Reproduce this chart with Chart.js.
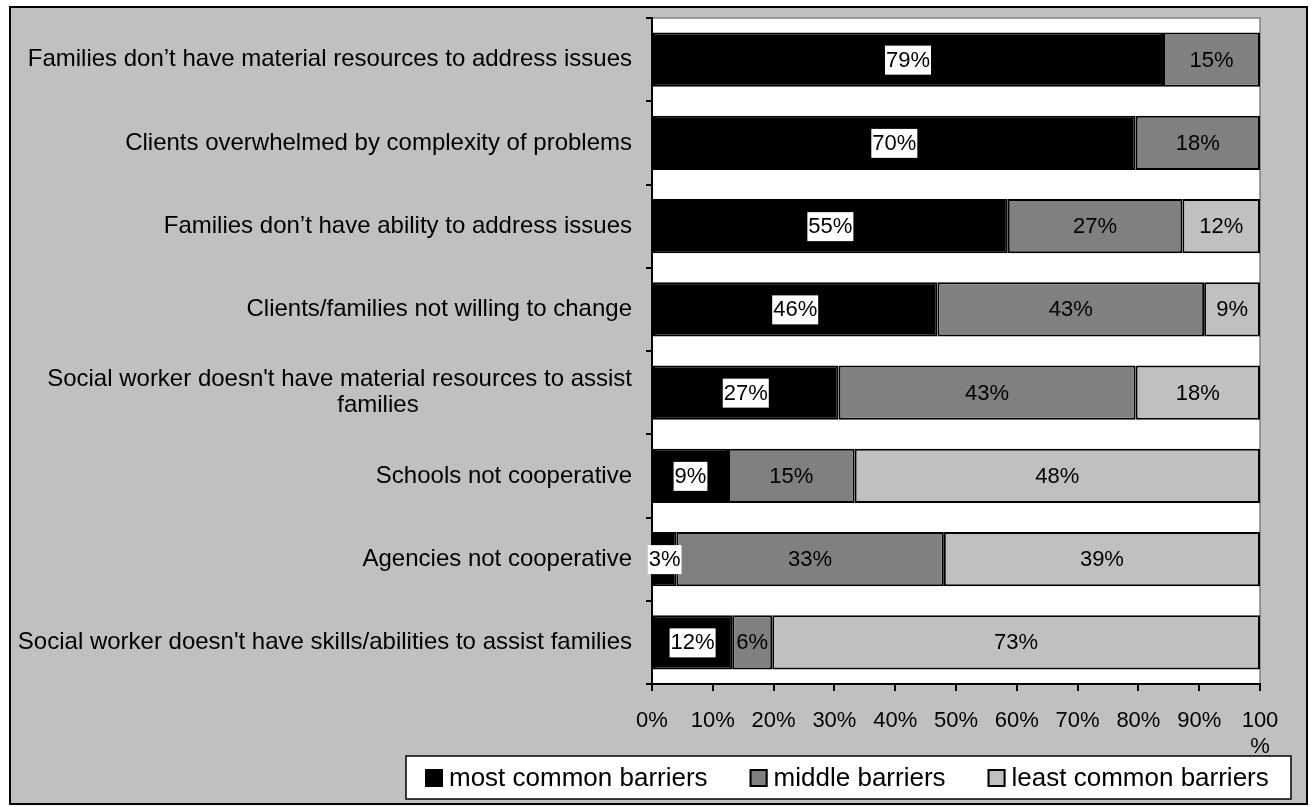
<!DOCTYPE html>
<html>
<head>
<meta charset="utf-8">
<script src="https://cdn.jsdelivr.net/npm/chart.js@4/dist/chart.umd.min.js"></script>
<style>
  html, body { margin: 0; padding: 0; background: #fff; }
  canvas { display: block; }
</style>
</head>
<body>
<canvas id="chart" width="1312" height="807"></canvas>
<script>
// categories, top to bottom
const categories = [
  "Families don\u2019t have material resources to address issues",
  "Clients overwhelmed by complexity of problems",
  "Families don\u2019t have ability to address issues",
  "Clients/families not willing to change",
  ["Social worker doesn't have material resources to assist", "families" + " ".repeat(32)],
  "Schools not cooperative",
  "Agencies not cooperative",
  "Social worker doesn't have skills/abilities to assist families"
];

// reported percentages (labels on the bars)
const mostCommon = [79, 70, 55, 46, 27, 9, 3, 12];
const middle = [15, 18, 27, 43, 43, 15, 33, 6];
const leastCommon = [null, null, 12, 9, 18, 48, 39, 73];

const seriesNames = ["most common barriers", "middle barriers", "least common barriers"];
const seriesColors = ["#000000", "#808080", "#c0c0c0"];

const xTicks = [0, 10, 20, 30, 40, 50, 60, 70, 80, 90, 100];

const FONT = '"Liberation Sans", Arial, sans-serif';

// bars are drawn as 100% stacked: each row is scaled to its own total
const raw = [mostCommon, middle, leastCommon];
const rowTotals = categories.map((_, i) => raw.reduce((s, arr) => s + (arr[i] || 0), 0));
const share = arr => arr.map((v, i) => v == null ? null : v / rowTotals[i] * 100);

const datasets = raw.map((arr, k) => ({
  label: seriesNames[k],
  data: share(arr),
  rawValues: arr,
  backgroundColor: seriesColors[k],
  borderColor: "#000000",
  borderWidth: 2,
  borderSkipped: false,
  barPercentage: 0.65,
  categoryPercentage: 1.0
}));

// gray frame + white plot area behind everything
const frame = {
  id: "frame",
  beforeDraw(chart) {
    const ctx = chart.ctx;
    const a = chart.chartArea;
    ctx.save();
    ctx.fillStyle = "#ffffff";
    ctx.fillRect(0, 0, chart.width, chart.height);
    ctx.fillStyle = "#c0c0c0";
    ctx.fillRect(10, 7, 1297, 797);
    ctx.strokeStyle = "#000000";
    ctx.lineWidth = 2;
    ctx.strokeRect(10, 7, 1297, 797);
    ctx.fillStyle = "#ffffff";
    ctx.fillRect(a.left, a.top, a.right - a.left, a.bottom - a.top);
    ctx.strokeStyle = "#808080";
    ctx.lineWidth = 1.5;
    ctx.strokeRect(a.left, a.top, a.right - a.left, a.bottom - a.top);
    ctx.restore();
  }
};

// value labels on each segment
const valueLabels = {
  id: "valueLabels",
  afterDatasetsDraw(chart) {
    const ctx = chart.ctx;
    ctx.save();
    ctx.font = "22px " + FONT;
    ctx.textAlign = "center";
    ctx.textBaseline = "middle";
    chart.data.datasets.forEach((ds, k) => {
      const meta = chart.getDatasetMeta(k);
      meta.data.forEach((bar, i) => {
        const v = ds.rawValues[i];
        if (v == null) return;
        const txt = v + "%";
        const cx = (bar.x + bar.base) / 2;
        const cy = bar.y;
        if (k === 0) {
          const w = ctx.measureText(txt).width + 2;
          ctx.fillStyle = "#ffffff";
          ctx.fillRect(cx - w / 2, cy - 14, w, 29);
        }
        ctx.fillStyle = "#000000";
        ctx.fillText(txt, cx, cy + 1);
      });
    });
    ctx.restore();
  }
};

// boxed legend at the bottom right
const boxLegend = {
  id: "boxLegend",
  afterDraw(chart) {
    const ctx = chart.ctx;
    ctx.save();
    ctx.fillStyle = "#ffffff";
    ctx.fillRect(406, 756, 885, 43);
    ctx.strokeStyle = "#000000";
    ctx.lineWidth = 1.5;
    ctx.strokeRect(406, 756, 885, 43);
    ctx.font = "26px " + FONT;
    ctx.textBaseline = "middle";
    ctx.textAlign = "left";
    let x = 425;
    const cy = 778;
    chart.data.datasets.forEach(ds => {
      ctx.fillStyle = ds.backgroundColor;
      ctx.fillRect(x, cy - 9, 18, 18);
      ctx.strokeStyle = "#000000";
      ctx.lineWidth = 2;
      ctx.strokeRect(x + 1, cy - 8, 16, 16);
      ctx.fillStyle = "#000000";
      ctx.fillText(ds.label, x + 24, cy + 1);
      x += 24 + ctx.measureText(ds.label).width + 42;
    });
    ctx.restore();
  }
};

new Chart(document.getElementById("chart").getContext("2d"), {
  type: "bar",
  data: { labels: categories, datasets },
  options: {
    indexAxis: "y",
    responsive: false,
    animation: false,
    devicePixelRatio: 1,
    layout: { padding: { top: 18, right: 52, left: 10, bottom: 48 } },
    plugins: {
      legend: { display: false },
      tooltip: { enabled: false }
    },
    scales: {
      x: {
        stacked: true,
        min: 0,
        max: 100,
        afterFit(s) { s.height = 75; s.paddingLeft = 0; s.paddingRight = 0; },
        afterBuildTicks(s) { s.ticks = xTicks.map(v => ({ value: v })); },
        grid: { drawOnChartArea: false, drawTicks: true, tickLength: 7, color: "#000", lineWidth: 2 },
        border: { color: "#000", width: 2 },
        ticks: {
          color: "#000",
          font: { family: FONT, size: 22, lineHeight: 1.18 },
          padding: 17,
          maxRotation: 0,
          autoSkip: false,
          callback: v => v === 100 ? ["100", "%"] : v + "%"
        }
      },
      y: {
        stacked: true,
        afterFit(s) { s.width = 642; s.paddingTop = 0; s.paddingBottom = 0; },
        grid: { drawOnChartArea: false, drawTicks: true, tickLength: 6, color: "#000", lineWidth: 2, offset: true },
        border: { color: "#000", width: 2 },
        ticks: {
          color: "#000",
          font: { family: FONT, size: 24, lineHeight: 1.1 },
          padding: 14,
          autoSkip: false
        }
      }
    }
  },
  plugins: [frame, valueLabels, boxLegend]
});
</script>
</body>
</html>
